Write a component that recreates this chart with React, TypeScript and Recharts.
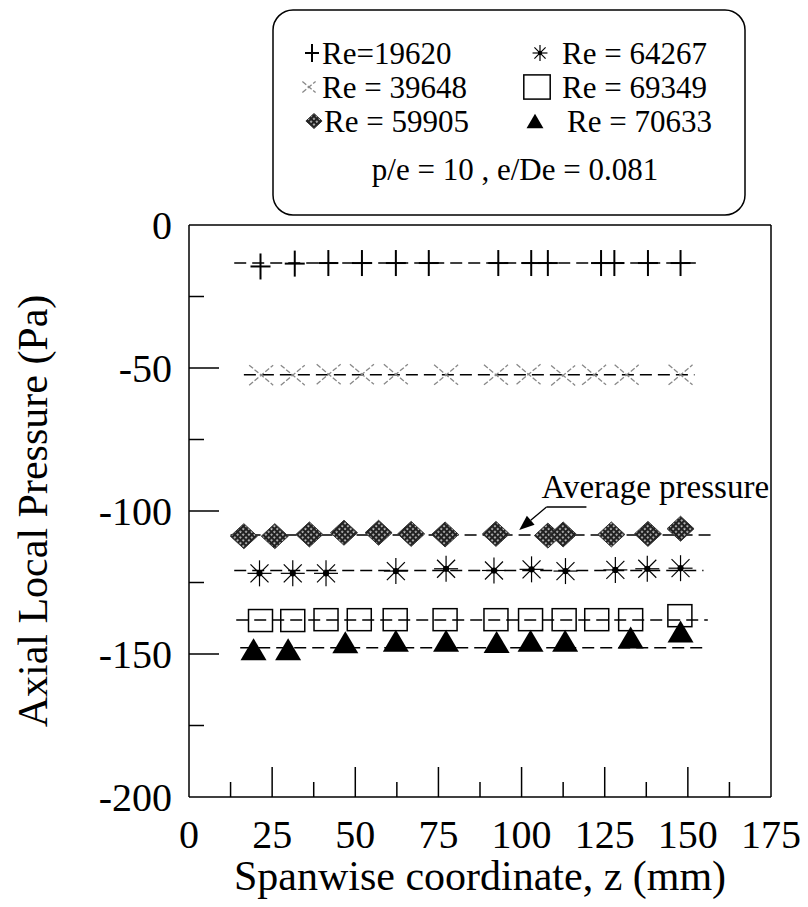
import React from "react";
import {
  ComposedChart,
  Line,
  ReferenceDot,
  ReferenceLine,
  Scatter,
  XAxis,
  YAxis,
} from "recharts";

const SERIF = "'Liberation Serif', 'Times New Roman', Tinos, 'DejaVu Serif', serif";

// spanwise coordinate z (mm) and axial local pressure (Pa), one pair per Re
const zRe19620 = [21.5, 31.8, 41.9, 52.0, 62.2, 72.1, 93.0, 102.9, 107.9, 123.9, 127.9, 138.0, 147.8];
const pRe19620 = [-14.5, -13.5, -13.3, -13.3, -13.3, -13.3, -13.3, -13.3, -13.3, -13.3, -13.3, -13.3, -13.3];

const zRe39648 = [21.7, 31.2, 42.0, 52.0, 62.2, 77.3, 92.3, 102.1, 112.5, 121.8, 131.6, 147.8];
const pRe39648 = [-52.5, -52.5, -52.2, -52.2, -52.2, -52.4, -52.4, -52.2, -52.6, -52.4, -52.4, -52.4];

const zRe59905 = [16.5, 25.8, 36.2, 46.6, 57.0, 66.8, 77.0, 92.3, 107.9, 112.5, 127.0, 138.0, 147.8];
const pRe59905 = [-108.8, -108.8, -108.2, -107.6, -107.6, -108, -108.2, -108, -108.6, -108.2, -108.2, -108, -106.2];

const zRe64267 = [21.2, 31.2, 41.2, 62.2, 77.3, 91.7, 103.0, 113.2, 128.2, 137.8, 147.8];
const pRe64267 = [-121.8, -121.8, -121.8, -121, -120.2, -120.8, -120.4, -121, -120.6, -120.2, -120];

const zRe69349 = [21.5, 31.2, 41.2, 51.2, 62.0, 77.0, 92.3, 102.7, 112.8, 122.6, 132.8, 147.6];
const pRe69349 = [-138.3, -138.3, -138, -138, -138, -138, -138, -138, -138, -138, -138, -136.6];

const zRe70633 = [19.4, 29.8, 47.0, 62.2, 77.3, 92.5, 102.7, 113.1, 132.8, 147.8];
const pRe70633 = [-148.3, -148.3, -145.9, -145.4, -145.4, -145.8, -145.4, -145.4, -144.2, -142.1];

const RE_LABELS = ["Re=19620", "Re = 39648", "Re = 59905", "Re = 64267", "Re = 69349", "Re = 70633"];

// dashed average-pressure lines, same order as RE_LABELS
const avgStart = [13.6, 16.5, 12.5, 13.6, 14.2, 15.4];
const avgEnd = [152.4, 152, 157, 154.7, 156, 156];
const avgLevel = [-13.3, -52.4, -108.4, -120.8, -138.1, -147.8];

const X_TICKS = [0, 12.5, 25, 37.5, 50, 62.5, 75, 87.5, 100, 112.5, 125, 137.5, 150, 162.5, 175];
const Y_TICKS = [-200, -175, -150, -125, -100, -75, -50, -25, 0];

const toPoints = (zs: number[], ps: number[]) => zs.map((z, i) => ({ z, p: ps[i] }));

const textStyle = { fontFamily: SERIF };

type MarkProps = { cx?: number; cy?: number; s?: number };

function PlusMark({ cx = 0, cy = 0, s = 1 }: MarkProps) {
  return (
    <g stroke="#000" strokeWidth={2}>
      <line x1={cx - 10 * s} y1={cy} x2={cx + 10 * s} y2={cy} />
      <line x1={cx} y1={cy - 13 * s} x2={cx} y2={cy + 13 * s} />
    </g>
  );
}

function CrossMark({ cx = 0, cy = 0, s = 1 }: MarkProps) {
  return (
    <g stroke="#888" strokeWidth={1.3} strokeDasharray="5 2">
      <line x1={cx - 12 * s} y1={cy - 10 * s} x2={cx + 12 * s} y2={cy + 10 * s} />
      <line x1={cx - 12 * s} y1={cy + 10 * s} x2={cx + 12 * s} y2={cy - 10 * s} />
    </g>
  );
}

function DiamondMark({ cx = 0, cy = 0, s = 1 }: MarkProps) {
  const w = 13.5 * s;
  const h = 12.5 * s;
  return (
    <polygon
      points={`${cx},${cy - h} ${cx + w},${cy} ${cx},${cy + h} ${cx - w},${cy}`}
      fill="url(#meshFill)"
      stroke="#333"
      strokeWidth={1}
    />
  );
}

function StarMark({ cx = 0, cy = 0, s = 1 }: MarkProps) {
  const rx = 12 * s;
  const ry = 13 * s;
  const d = 9 * s;
  return (
    <g stroke="#000" strokeWidth={1.2}>
      <line x1={cx - rx} y1={cy} x2={cx + rx} y2={cy} />
      <line x1={cx} y1={cy - ry} x2={cx} y2={cy + ry} />
      <line x1={cx - d} y1={cy - d} x2={cx + d} y2={cy + d} />
      <line x1={cx - d} y1={cy + d} x2={cx + d} y2={cy - d} />
      <circle cx={cx} cy={cy} r={2.5 * s} fill="#000" />
    </g>
  );
}

function SquareMark({ cx = 0, cy = 0, s = 1 }: MarkProps) {
  return (
    <rect x={cx - 12 * s} y={cy - 11 * s} width={24 * s} height={22 * s} fill="none" stroke="#000" strokeWidth={1.5} />
  );
}

function TriangleMark({ cx = 0, cy = 0, s = 1 }: MarkProps) {
  return (
    <polygon
      points={`${cx},${cy - 11 * s} ${cx + 13 * s},${cy + 11 * s} ${cx - 13 * s},${cy + 11 * s}`}
      fill="#000"
    />
  );
}

const MARKS = [PlusMark, CrossMark, DiamondMark, StarMark, SquareMark, TriangleMark];
const SERIES = [
  toPoints(zRe19620, pRe19620),
  toPoints(zRe39648, pRe39648),
  toPoints(zRe59905, pRe59905),
  toPoints(zRe64267, pRe64267),
  toPoints(zRe69349, pRe69349),
  toPoints(zRe70633, pRe70633),
];

function XTick(props: any) {
  const { x, y, payload } = props;
  const v = payload.value as number;
  const major = v % 25 === 0;
  return (
    <g>
      {v > 0 && v < 175 && (
        <line x1={x} y1={y} x2={x} y2={y - (major ? 30 : 15)} stroke="#000" strokeWidth={1.5} />
      )}
      {major && (
        <text x={x} y={y + 51} textAnchor="middle" fontSize={40} style={textStyle} fill="#000">
          {v}
        </text>
      )}
    </g>
  );
}

function YTick(props: any) {
  const { x, y, payload } = props;
  const v = payload.value as number;
  const major = v % 50 === 0;
  return (
    <g>
      {v > -200 && v < 0 && (
        <line x1={x} y1={y} x2={x + (major ? 30 : 15)} y2={y} stroke="#000" strokeWidth={1.5} />
      )}
      {major && (
        <text x={x - 17} y={y + 14} textAnchor="end" fontSize={40} style={textStyle} fill="#000">
          {v}
        </text>
      )}
    </g>
  );
}

function YTitle(props: any) {
  const vb = props.viewBox;
  const cx = 33;
  const cy = vb.y + vb.height / 2;
  return (
    <text
      x={cx}
      y={cy}
      transform={`rotate(-90 ${cx} ${cy})`}
      textAnchor="middle"
      dominantBaseline="central"
      fontSize={42}
      style={textStyle}
      fill="#000"
    >
      Axial Local Pressure (Pa)
    </text>
  );
}

function XTitle(props: any) {
  const vb = props.viewBox;
  return (
    <text x={vb.x + vb.width / 2} y={890} textAnchor="middle" fontSize={42} style={textStyle} fill="#000">
      Spanwise coordinate, z (mm)
    </text>
  );
}

function ArrowShape(props: any) {
  const { x1, y1, x2, y2 } = props;
  const ang = Math.atan2(y2 - y1, x2 - x1);
  const len = 15;
  const half = 6;
  const bx = x2 - len * Math.cos(ang);
  const by = y2 - len * Math.sin(ang);
  const nx = -Math.sin(ang) * half;
  const ny = Math.cos(ang) * half;
  return (
    <g>
      <line x1={x1} y1={y1} x2={bx} y2={by} stroke="#000" strokeWidth={1.3} />
      <polygon points={`${x2},${y2} ${bx + nx},${by + ny} ${bx - nx},${by - ny}`} fill="#000" />
    </g>
  );
}

function LegendBox() {
  const rows = [
    { Mark: PlusMark, s: 0.7, mx: 312, tx: 322, y: 64, label: RE_LABELS[0] },
    { Mark: CrossMark, s: 0.55, mx: 309, tx: 322, y: 98, label: RE_LABELS[1] },
    { Mark: DiamondMark, s: 0.6, mx: 314, tx: 324, y: 132, label: RE_LABELS[2] },
    { Mark: StarMark, s: 0.62, mx: 540, tx: 562, y: 64, label: RE_LABELS[3] },
    { Mark: SquareMark, s: 1.1, mx: 537, tx: 562, y: 98, label: RE_LABELS[4] },
    { Mark: TriangleMark, s: 0.65, mx: 535, tx: 567, y: 132, label: RE_LABELS[5] },
  ];
  return (
    <svg width={808} height={230} style={{ position: "absolute", left: 0, top: 0 }}>
      <defs>
        <pattern id="meshFill" width="4" height="4" patternUnits="userSpaceOnUse" patternTransform="rotate(45)">
          <rect width="4" height="4" fill="#222" />
          <rect x="1.2" y="1.2" width="1.8" height="1.8" fill="#c8c8c8" />
        </pattern>
      </defs>
      <rect x={273} y={10} width={472} height={205} rx={20} fill="#fff" stroke="#000" strokeWidth={1.5} />
      {rows.map(({ Mark, s, mx, tx, y, label }) => (
        <g key={label}>
          <Mark cx={mx} cy={y - 11} s={s} />
          <text x={tx} y={y} fontSize={31} style={textStyle} fill="#000">
            {label}
          </text>
        </g>
      ))}
      <text x={515} y={180} textAnchor="middle" fontSize={31} style={textStyle} fill="#000">
        p/e = 10 , e/De = 0.081
      </text>
    </svg>
  );
}

export default function App() {
  return (
    <div style={{ position: "absolute", left: 0, top: 0, width: 808, height: 907, background: "#fff" }}>
      <LegendBox />
      <div style={{ position: "absolute", left: 0, top: 0 }}>
        <ComposedChart width={808} height={907} margin={{ top: 225, right: 37, bottom: 0, left: 0 }}>
          <XAxis
            type="number"
            dataKey="z"
            domain={[0, 175]}
            ticks={X_TICKS}
            interval={0}
            tick={<XTick />}
            tickLine={false}
            tickSize={0}
            tickMargin={0}
            height={110}
            axisLine={{ stroke: "#000", strokeWidth: 1.5 }}
            label={{ content: XTitle }}
          />
          <YAxis
            type="number"
            dataKey="p"
            domain={[-200, 0]}
            ticks={Y_TICKS}
            interval={0}
            tick={<YTick />}
            tickLine={false}
            tickSize={0}
            tickMargin={0}
            width={189}
            axisLine={{ stroke: "#000", strokeWidth: 1.5 }}
            label={{ content: YTitle }}
          />
          <ReferenceLine y={0} stroke="#000" strokeWidth={1.5} />
          <ReferenceLine x={175} stroke="#000" strokeWidth={1.5} />

          {avgLevel.map((lv, i) => (
            <Line
              key={`avg-${i}`}
              data={[
                { z: avgStart[i], p: lv },
                { z: avgEnd[i], p: lv },
              ]}
              dataKey="p"
              type="linear"
              stroke="#000"
              strokeWidth={1.5}
              strokeDasharray="12 6"
              dot={false}
              activeDot={false}
              legendType="none"
              isAnimationActive={false}
            />
          ))}

          {SERIES.map((data, i) => {
            const Mark = MARKS[i];
            return (
              <Scatter
                key={RE_LABELS[i]}
                name={RE_LABELS[i]}
                data={data}
                shape={(p: any) => <Mark cx={p.cx} cy={p.cy} />}
                isAnimationActive={false}
              />
            );
          })}

          <ReferenceLine
            segment={[
              { x: 107.5, y: -98.6 },
              { x: 119.5, y: -98.6 },
            ]}
            stroke="#000"
            strokeWidth={1.3}
          />
          <ReferenceLine
            segment={[
              { x: 107.5, y: -98.6 },
              { x: 99.3, y: -106.6 },
            ]}
            shape={ArrowShape}
          />
          <ReferenceDot
            x={106}
            y={-95.5}
            r={0}
            shape={(p: any) => (
              <text x={p.cx} y={p.cy} fontSize={33} style={textStyle} fill="#000">
                Average pressure
              </text>
            )}
          />
        </ComposedChart>
      </div>
    </div>
  );
}
